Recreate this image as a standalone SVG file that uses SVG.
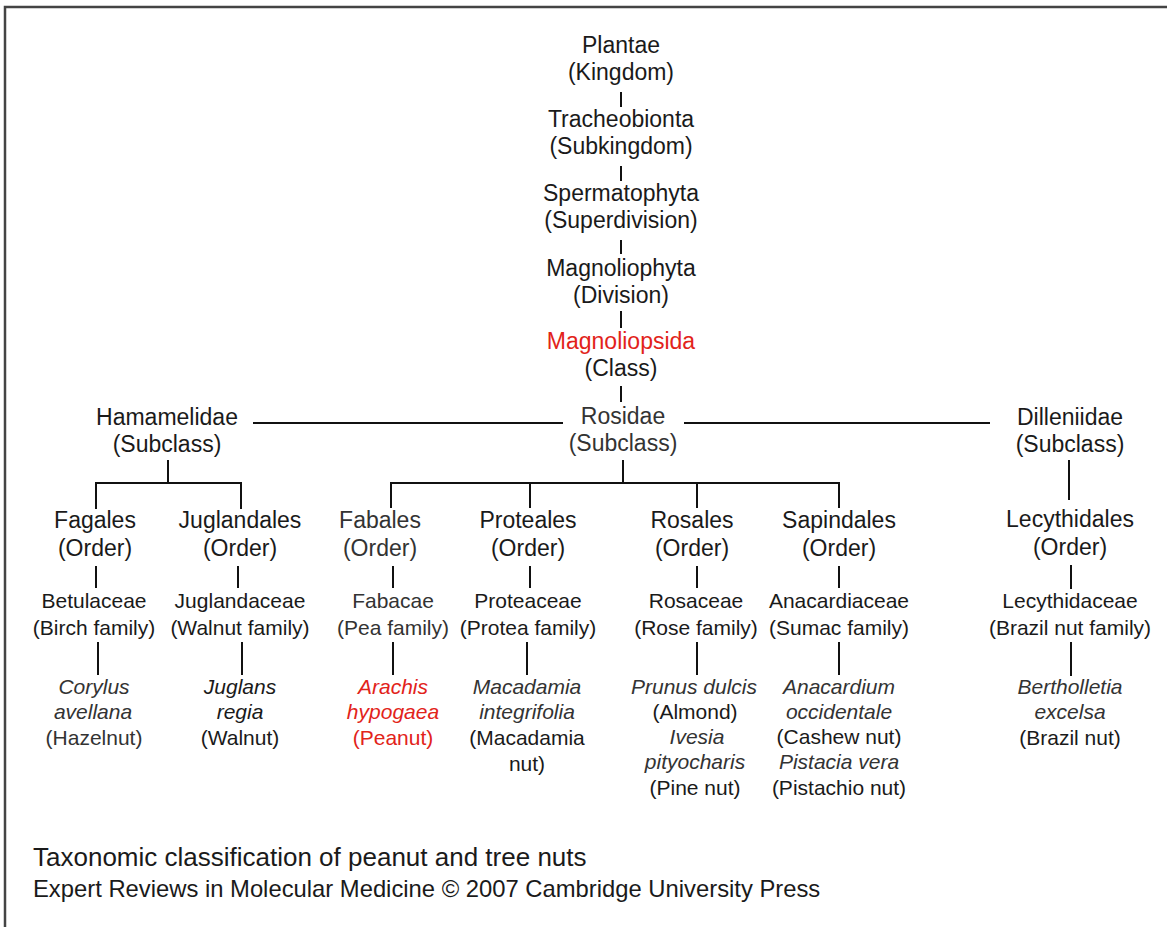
<svg xmlns="http://www.w3.org/2000/svg" width="1167" height="927" viewBox="0 0 1167 927">
<style>
text{font-family:"Liberation Sans",Arial,Helvetica,sans-serif;fill:#1a1a1a;text-anchor:middle}
.n{font-size:23px}
.f{font-size:21px}
.s{font-size:21px}
.i{font-style:italic;fill:#333}
.g{fill:#333}
.r{fill:#e2231a}
.c line{stroke:#111;stroke-width:2}
.frame{stroke:#444;stroke-width:2.5;fill:none}
.title{font-size:26px;text-anchor:start}
.foot{font-size:23.8px;text-anchor:start}
</style>
<rect width="1167" height="927" fill="#fff"/>
<path class="frame" d="M5,927 V7 H1167"/>
<g class="c" id="connectors">
<line x1="621" y1="92" x2="621" y2="107"/>
<line x1="621" y1="166" x2="621" y2="181"/>
<line x1="621" y1="240" x2="621" y2="254"/>
<line x1="621" y1="311" x2="621" y2="328"/>
<line x1="621" y1="386" x2="621" y2="402"/>
<line x1="253" y1="423" x2="563" y2="423"/>
<line x1="684" y1="423" x2="990" y2="423"/>
<line x1="168" y1="460" x2="168" y2="483"/>
<line x1="96" y1="483" x2="241" y2="483"/>
<line x1="96" y1="482" x2="96" y2="509"/>
<line x1="241" y1="482" x2="241" y2="509"/>
<line x1="623" y1="460" x2="623" y2="483"/>
<line x1="391" y1="483" x2="839" y2="483"/>
<line x1="391" y1="482" x2="391" y2="508"/>
<line x1="530" y1="482" x2="530" y2="508"/>
<line x1="697" y1="482" x2="697" y2="508"/>
<line x1="839" y1="482" x2="839" y2="508"/>
<line x1="1069" y1="460" x2="1069" y2="500"/>
<line x1="96" y1="566" x2="96" y2="588"/>
<line x1="238" y1="566" x2="238" y2="588"/>
<line x1="393" y1="566" x2="393" y2="588"/>
<line x1="530" y1="566" x2="530" y2="588"/>
<line x1="697" y1="566" x2="697" y2="588"/>
<line x1="839" y1="566" x2="839" y2="588"/>
<line x1="1071" y1="565" x2="1071" y2="589"/>
<line x1="98" y1="642" x2="98" y2="675"/>
<line x1="242" y1="642" x2="242" y2="675"/>
<line x1="393" y1="642" x2="393" y2="675"/>
<line x1="527" y1="642" x2="527" y2="675"/>
<line x1="697" y1="642" x2="697" y2="675"/>
<line x1="839" y1="642" x2="839" y2="675"/>
<line x1="1071" y1="642" x2="1071" y2="676"/>
</g>
<g id="plantae" class="n"><text x="621" y="53">Plantae</text><text x="621" y="80">(Kingdom)</text></g>
<g id="tracheobionta" class="n"><text x="621" y="127">Tracheobionta</text><text x="621" y="154">(Subkingdom)</text></g>
<g id="spermatophyta" class="n"><text x="621" y="201">Spermatophyta</text><text x="621" y="228">(Superdivision)</text></g>
<g id="magnoliophyta" class="n"><text x="621" y="276">Magnoliophyta</text><text x="621" y="303">(Division)</text></g>
<g id="magnoliopsida" class="n"><text x="621" y="349" class="r">Magnoliopsida</text><text x="621" y="376">(Class)</text></g>
<g id="rosidae" class="n"><text x="623" y="424" class="g">Rosidae</text><text x="623" y="451" class="g">(Subclass)</text></g>
<g id="hamamelidae" class="n"><text x="167" y="425">Hamamelidae</text><text x="167" y="452">(Subclass)</text></g>
<g id="dilleniidae" class="n"><text x="1070" y="425">Dilleniidae</text><text x="1070" y="452">(Subclass)</text></g>
<g id="fagales" class="n"><text x="95" y="528">Fagales</text><text x="95" y="556">(Order)</text></g>
<g id="juglandales" class="n"><text x="240" y="528">Juglandales</text><text x="240" y="556">(Order)</text></g>
<g id="fabales" class="n"><text x="380" y="528" class="g">Fabales</text><text x="380" y="556" class="g">(Order)</text></g>
<g id="proteales" class="n"><text x="528" y="528">Proteales</text><text x="528" y="556">(Order)</text></g>
<g id="rosales" class="n"><text x="692" y="528">Rosales</text><text x="692" y="556">(Order)</text></g>
<g id="sapindales" class="n"><text x="839" y="528">Sapindales</text><text x="839" y="556">(Order)</text></g>
<g id="lecythidales" class="n"><text x="1070" y="527">Lecythidales</text><text x="1070" y="555">(Order)</text></g>
<g id="betulaceae" class="f"><text x="94" y="608">Betulaceae</text><text x="94" y="635">(Birch family)</text></g>
<g id="juglandaceae" class="f"><text x="240" y="608">Juglandaceae</text><text x="240" y="635">(Walnut family)</text></g>
<g id="fabacae" class="f"><text x="393" y="608" class="g">Fabacae</text><text x="393" y="635" class="g">(Pea family)</text></g>
<g id="proteaceae" class="f"><text x="528" y="608">Proteaceae</text><text x="528" y="635">(Protea family)</text></g>
<g id="rosaceae" class="f"><text x="696" y="608">Rosaceae</text><text x="696" y="635">(Rose family)</text></g>
<g id="anacardiaceae" class="f"><text x="839" y="608">Anacardiaceae</text><text x="839" y="635">(Sumac family)</text></g>
<g id="lecythidaceae" class="f"><text x="1070" y="608">Lecythidaceae</text><text x="1070" y="635">(Brazil nut family)</text></g>
<g id="hazelnut" class="s"><text x="94" y="694" class="i">Corylus</text><text x="93" y="719" class="i">avellana</text><text x="94" y="745" class="g">(Hazelnut)</text></g>
<g id="walnut" class="s"><text x="240" y="694" class="i" style="fill:#1a1a1a">Juglans</text><text x="240" y="719" class="i" style="fill:#1a1a1a">regia</text><text x="240" y="745">(Walnut)</text></g>
<g id="peanut" class="s"><text x="393" y="694" class="i r">Arachis</text><text x="393" y="719" class="i r">hypogaea</text><text x="393" y="745" class="r">(Peanut)</text></g>
<g id="macadamia" class="s"><text x="527" y="694" class="i">Macadamia</text><text x="527" y="719" class="i">integrifolia</text><text x="527" y="745">(Macadamia</text><text x="527" y="771">nut)</text></g>
<g id="almond-pine" class="s"><text x="694" y="694" class="i">Prunus dulcis</text><text x="695" y="719">(Almond)</text><text x="697" y="744" class="i">Ivesia</text><text x="695" y="769" class="i">pityocharis</text><text x="695" y="795">(Pine nut)</text></g>
<g id="cashew-pistachio" class="s"><text x="839" y="694" class="i">Anacardium</text><text x="839" y="719" class="i">occidentale</text><text x="839" y="744">(Cashew nut)</text><text x="839" y="769" class="i">Pistacia vera</text><text x="839" y="795">(Pistachio nut)</text></g>
<g id="brazilnut" class="s"><text x="1070" y="694" class="i">Bertholletia</text><text x="1070" y="719" class="i">excelsa</text><text x="1070" y="745">(Brazil nut)</text></g>
<g id="caption">
<text class="title" x="33" y="866">Taxonomic classification of peanut and tree nuts</text>
<text class="foot" x="33" y="897">Expert Reviews in Molecular Medicine © 2007 Cambridge University Press</text>
</g>
</svg>
